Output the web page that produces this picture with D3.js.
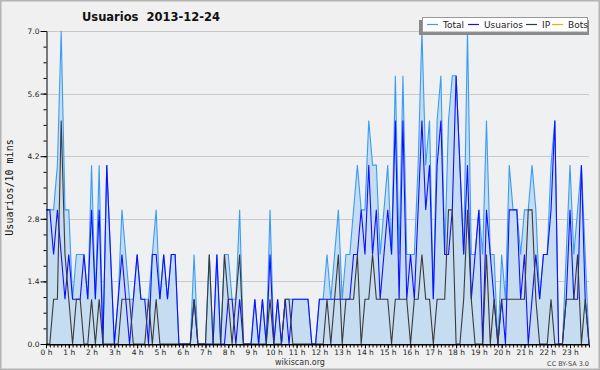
<!DOCTYPE html>
<html><head><meta charset="utf-8">
<script src="https://cdn.jsdelivr.net/npm/d3@7"></script>
<style>body{margin:0;background:#f0f0f0} svg{display:block}</style>
</head><body>
<svg id="c" width="600" height="370"></svg>
<script>
const title = "Usuarios  2013-12-24";
const yLabel = "Usuarios/10 mins";
const seriesNames = ["Total", "Usuarios", "IP", "Bots"];
const hourLabels = ["0 h","1 h","2 h","3 h","4 h","5 h","6 h","7 h","8 h","9 h","10 h","11 h",
  "12 h","13 h","14 h","15 h","16 h","17 h","18 h","19 h","20 h","21 h","22 h","23 h"];
const yTicks = [0, 1.4, 2.8, 4.2, 5.6, 7.0];

const total = [3,3,3,4,7,3,3,1,2,2, 2,1,4,1,4,0,4,2,0,1, 3,2,1,1,2,1,1,1,2,3,
  1,2,1,2,2,0,0,0,0,2, 0,0,0,2,0,2,0,2,2,1, 1,3,0,0,0,1,0,1,0,3,
  0,1,0,1,1,1,1,1,1,1, 0,0,1,1,2,1,2,3,1,2, 2,3,4,3,3,5,4,4,2,3,
  4,2,6,2,6,2,2,2,4,7, 4,5,1,5,6,2,5,6,6,4, 2,7,2,2,3,2,5,2,2,0,
  2,1,4,3,3,2,3,3,4,3, 1,2,2,4,5,0,0,2,4,2, 3,4,2,0];
const usuarios = [3,3,2,3,2,1,2,1,1,1, 2,1,3,1,3,0,4,2,0,1, 2,1,0,1,2,1,1,0,2,2,
  1,2,1,2,2,0,0,0,0,1, 0,0,0,0,0,2,0,0,1,1, 0,1,0,0,0,1,0,1,0,2,
  0,1,0,1,0,1,1,1,1,1, 0,0,1,1,1,1,1,1,1,1, 1,2,2,3,2,4,2,3,1,2,
  3,2,5,1,5,1,2,1,3,5, 3,4,1,4,5,2,2,3,6,4, 2,4,1,2,3,0,3,2,1,0,
  1,0,3,3,3,1,2,0,1,2, 1,2,2,3,5,0,0,1,3,1, 1,4,1,0];
const ip = [0,0,1,1,5,2,1,0,1,1, 0,0,1,0,1,0,0,0,0,0, 1,1,1,0,0,0,0,1,0,1,
  0,0,0,0,0,0,0,0,0,1, 0,0,0,2,0,0,0,2,1,0, 1,2,0,0,0,0,0,0,0,1,
  0,0,0,1,1,0,0,0,0,0, 0,0,0,0,1,0,1,2,0,1, 1,1,2,0,1,1,2,1,1,1,
  1,0,1,1,1,1,0,1,1,2, 1,1,0,1,1,1,3,3,0,0, 1,3,1,0,0,0,2,0,1,0,
  1,1,1,1,1,1,1,3,3,1, 0,0,0,1,0,0,0,1,1,1, 2,0,1,0];
const bots = [0,0,0,0,0,0,0,0,0,0, 0,0,0,0,0,0,0,0,0,0, 0,0,0,0,0,0,0,0,0,0,
  0,0,0,0,0,0,0,0,0,0, 0,0,0,0,0,0,0,0,0,0, 0,0,0,0,0,0,0,0,0,0,
  0,0,0,0,0,0,0,0,0,0, 0,0,0,0,0,0,0,0,0,0, 0,0,0,0,0,0,0,0,0,0,
  0,0,0,0,0,0,0,0,0,0, 0,0,0,0,0,0,0,0,0,0, 0,0,0,0,0,0,0,0,0,0,
  0,0,0,0,0,0,0,0,0,0, 0,0,0,0,0,0,0,0,0,0, 0,0,0,0];
const colors = ["#3b9cf5", "#1010ff", "#3a3a3a", "#ffa500"];

const svg = d3.select("#c");
const W = 600, H = 370;
const L = 46, R = 589, T = 31, B = 344;

svg.append("rect").attr("x", 0.75).attr("y", 0.75).attr("width", W - 1.5).attr("height", H - 1.5)
  .attr("fill", "#f0f0f0").attr("stroke", "#b4b4b4").attr("stroke-width", 1.5);

const x = d3.scaleLinear().domain([0, total.length - 1]).range([L, R]);
const y = d3.scaleLinear().domain([0, 7]).range([B, T]);

svg.append("rect").attr("x", L).attr("y", T).attr("width", R - L).attr("height", B - T).attr("fill", "#eef0f2");

// grid
svg.append("g").selectAll("line").data(yTicks.filter(d => d > 0)).join("line")
  .attr("x1", L).attr("x2", R).attr("y1", d => Math.round(y(d)) + 0.5).attr("y2", d => Math.round(y(d)) + 0.5)
  .attr("stroke", "#c9c9c9").attr("stroke-width", 1);

const line = d3.line().x((d, i) => x(i)).y(d => y(d));

// bots (all zero; lies under the others and the axis)
svg.append("path").datum(bots).attr("d", line).attr("fill", "none")
  .attr("stroke", colors[3]).attr("stroke-width", 1);

// area
svg.append("path").datum(total)
  .attr("d", d3.area().x((d, i) => x(i)).y0(B).y1(d => y(d)))
  .attr("fill", "#c6dcf1");

[total, usuarios, ip].forEach((s, k) => {
  svg.append("path").datum(s).attr("d", line).attr("fill", "none")
    .attr("stroke", colors[k]).attr("stroke-width", 1.1).attr("stroke-linejoin", "miter");
});

// y axis
const yAxis = d3.axisLeft(y).tickValues(yTicks).tickFormat(d3.format(".1f")).tickSize(6).tickSizeOuter(0).tickPadding(1);
const gy = svg.append("g").attr("transform", `translate(${L + 0.5},0)`).call(yAxis);
gy.select(".domain").attr("stroke", "#000");
gy.selectAll(".tick line").attr("stroke", "#000");
gy.selectAll("text").attr("font-family", "DejaVu Sans").attr("font-size", 7.5).attr("fill", "#222");
const yMinor = [0, 0.35, 0.7, 1.05, 1.4, 1.75, 2.1, 2.45, 2.8, 3.15, 3.5, 3.85, 4.2, 4.55, 4.9, 5.25, 5.6, 5.95, 6.3, 6.65, 7.0];
const yAxisMinor = d3.axisLeft(y).tickValues(yMinor).tickFormat("").tickSize(3).tickSizeOuter(0);
const gym = svg.append("g").attr("transform", `translate(${L + 0.5},0)`).call(yAxisMinor);
gym.select(".domain").remove();
gym.selectAll(".tick line").attr("stroke", "#000");

// x axis
const hourIdx = hourLabels.map((d, h) => h * 6);
const xAxis = d3.axisBottom(x).tickValues(hourIdx).tickFormat((d, i) => hourLabels[i]).tickSize(4).tickSizeOuter(0).tickPadding(1);
const gx = svg.append("g").attr("transform", `translate(0,${B + 0.3})`).call(xAxis);
gx.select(".domain").attr("stroke", "#000").attr("stroke-width", 1.6);
gx.selectAll(".tick line").attr("stroke", "#000");
gx.selectAll("text").attr("font-family", "DejaVu Sans").attr("font-size", 7.5).attr("fill", "#222");
const xAxisMinor = d3.axisBottom(x).tickValues(d3.range(0, total.length)).tickFormat("").tickSize(3).tickSizeOuter(0);
const gxm = svg.append("g").attr("transform", `translate(0,${B + 0.5})`).call(xAxisMinor);
gxm.select(".domain").remove();
gxm.selectAll(".tick line").attr("stroke", "#000");

// title
svg.append("text").attr("x", 151).attr("y", 21).attr("text-anchor", "middle")
  .attr("font-family", "DejaVu Sans").attr("font-weight", "bold").attr("font-size", 11.5)
  .attr("fill", "#111").attr("xml:space", "preserve").style("white-space", "pre").text(title);

// y label
svg.append("text").attr("transform", `translate(13,${(T + B) / 2}) rotate(-90)`)
  .attr("text-anchor", "middle").attr("font-family", "DejaVu Sans Mono").attr("font-size", 10)
  .attr("fill", "#111").text(yLabel);

// footer
svg.append("text").attr("x", 300).attr("y", 365).attr("text-anchor", "middle")
  .attr("font-family", "DejaVu Sans").attr("font-size", 8).attr("fill", "#333").text("wikiscan.org");
svg.append("text").attr("x", 589).attr("y", 366).attr("text-anchor", "end")
  .attr("font-family", "DejaVu Sans").attr("font-size", 6.5).attr("fill", "#444").text("CC BY-SA 3.0");

// legend
const lg = svg.append("g");
lg.append("rect").attr("x", 419).attr("y", 20).attr("width", 170).attr("height", 15).attr("fill", "#888");
lg.append("rect").attr("x", 422.5).attr("y", 17.5).attr("width", 165).attr("height", 14.5)
  .attr("fill", "#fff").attr("stroke", "#999").attr("stroke-width", 1);
const itemX = [427, 468, 526, 552];
seriesNames.forEach((n, k) => {
  lg.append("line").attr("x1", itemX[k]).attr("x2", itemX[k] + 11).attr("y1", 24.5).attr("y2", 24.5)
    .attr("stroke", colors[k]).attr("stroke-width", 1.2);
  lg.append("text").attr("x", itemX[k] + 16).attr("y", 28).attr("font-family", "DejaVu Sans")
    .attr("font-size", 9).attr("fill", "#222").text(n);
});
</script>
</body></html>
